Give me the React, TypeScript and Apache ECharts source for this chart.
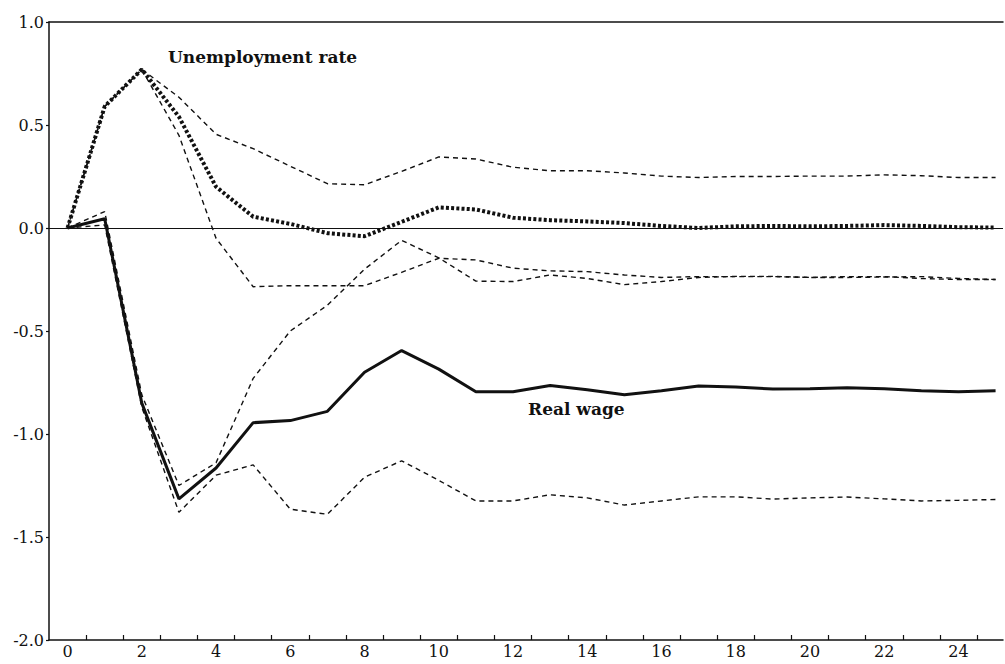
import React, { useEffect, useRef } from "react";
import * as echarts from "echarts";

const periods = [0, 1, 2, 3, 4, 5, 6, 7, 8, 9, 10, 11, 12, 13, 14, 15, 16, 17, 18, 19, 20, 21, 22, 23, 24, 25];

const unemployment = [0, 0.59, 0.77, 0.54, 0.2, 0.055, 0.02, -0.025, -0.04, 0.03, 0.1, 0.09, 0.05, 0.038, 0.032, 0.024, 0.01, 0.0, 0.008, 0.01, 0.008, 0.01, 0.014, 0.01, 0.004, 0.002];
const unempUpper = [0, 0.59, 0.77, 0.635, 0.455, 0.385, 0.3, 0.215, 0.21, 0.275, 0.345, 0.335, 0.295, 0.278, 0.278, 0.267, 0.252, 0.245, 0.25, 0.25, 0.252, 0.252, 0.258, 0.254, 0.245, 0.245];
const unempLower = [0, 0.59, 0.77, 0.45, -0.05, -0.285, -0.28, -0.28, -0.28, -0.215, -0.147, -0.155, -0.195, -0.208, -0.212, -0.228, -0.24, -0.236, -0.236, -0.236, -0.24, -0.24, -0.238, -0.236, -0.245, -0.25];

const realWage = [0, 0.045, -0.85, -1.315, -1.165, -0.945, -0.935, -0.89, -0.7, -0.595, -0.685, -0.795, -0.795, -0.765, -0.785, -0.81, -0.79, -0.767, -0.772, -0.782, -0.78, -0.775, -0.78, -0.79, -0.795, -0.79];
const wageUpper = [0, 0.08, -0.81, -1.25, -1.14, -0.73, -0.5, -0.375, -0.2, -0.06, -0.145, -0.258, -0.26, -0.228, -0.245, -0.275, -0.26, -0.24, -0.235, -0.235, -0.24, -0.236, -0.236, -0.245, -0.25, -0.25];
const wageLower = [0, 0.015, -0.87, -1.38, -1.2, -1.15, -1.365, -1.39, -1.21, -1.13, -1.225, -1.325, -1.325, -1.295, -1.31, -1.345, -1.325, -1.305, -1.305, -1.316, -1.31, -1.306, -1.315, -1.325, -1.322, -1.318];

const xLabelValues = [0, 2, 4, 6, 8, 10, 12, 14, 16, 18, 20, 22, 24];
const xTickValues = [0.5, 1.5, 2.5, 3.5, 4.5, 5.5, 6.5, 7.5, 8.5, 9.5, 10.5, 11.5, 12.5, 13.5, 14.5, 15.5, 16.5, 17.5, 18.5, 19.5, 20.5, 21.5, 22.5, 23.5, 24.5];

const labelUnemployment = "Unemployment rate";
const labelRealWage = "Real wage";

const FONT = "DejaVu Serif";
const INK = "#111";

function pairs(vals: number[]) {
  return periods.map((p, i) => [p, vals[i]]);
}

export default function App() {
  const ref = useRef<HTMLDivElement>(null);

  useEffect(() => {
    if (!ref.current) return;
    const chart = echarts.init(ref.current, undefined, { renderer: "svg" });

    const band = (name: string, vals: number[]) => ({
      name,
      type: "line",
      data: pairs(vals),
      showSymbol: false,
      symbol: "none",
      lineStyle: { color: INK, width: 1.4, type: [5, 4] },
      z: 2,
    });

    chart.setOption({
      animation: false,
      backgroundColor: "#fff",
      grid: { left: 49, right: 2, top: 22, bottom: 24 },
      xAxis: [
        {
          type: "value",
          min: -0.5,
          max: 25.2,
          axisLine: { show: true, onZero: false, lineStyle: { color: INK, width: 1.5 } },
          axisTick: {
            show: true,
            inside: true,
            length: 5,
            customValues: xTickValues,
            lineStyle: { color: INK, width: 1.2 },
          },
          axisLabel: {
            customValues: xLabelValues,
            color: INK,
            fontFamily: FONT,
            fontSize: 16,
            margin: 3,
            formatter: (v: number) => String(v),
          },
          splitLine: { show: false },
        },
        {
          type: "value",
          position: "top",
          min: -0.5,
          max: 25.2,
          axisLine: { show: true, onZero: false, lineStyle: { color: INK, width: 1.5 } },
          axisTick: { show: false },
          axisLabel: { show: false },
          splitLine: { show: false },
        },
      ],
      yAxis: {
        type: "value",
        min: -2,
        max: 1,
        interval: 0.5,
        axisLine: { show: true, onZero: false, lineStyle: { color: INK, width: 1.5 } },
        axisTick: { show: true, inside: false, length: 3, lineStyle: { color: INK, width: 1.2 } },
        axisLabel: {
          color: INK,
          fontFamily: FONT,
          fontSize: 16,
          margin: 5,
          formatter: (v: number) => v.toFixed(1),
        },
        splitLine: { show: false },
      },
      series: [
        {
          name: "zero",
          type: "line",
          data: [],
          markLine: {
            silent: true,
            symbol: "none",
            label: { show: false },
            lineStyle: { color: INK, width: 1, type: "solid" },
            data: [{ yAxis: 0 }],
          },
        },
        band("Unemployment upper", unempUpper),
        band("Unemployment lower", unempLower),
        band("Real wage upper", wageUpper),
        band("Real wage lower", wageLower),
        {
          name: labelUnemployment,
          type: "line",
          data: pairs(unemployment),
          showSymbol: false,
          symbol: "none",
          lineStyle: { color: INK, width: 4, type: [3, 2.2], cap: "butt" },
          z: 3,
        },
        {
          name: labelRealWage,
          type: "line",
          data: pairs(realWage),
          showSymbol: false,
          symbol: "none",
          lineStyle: { color: INK, width: 3, type: "solid" },
          z: 3,
        },
      ],
      graphic: [
        {
          type: "text",
          left: 168,
          top: 48,
          style: { text: labelUnemployment, fill: INK, font: `bold 17px "${FONT}"` },
        },
        {
          type: "text",
          left: 528,
          top: 400,
          style: { text: labelRealWage, fill: INK, font: `bold 17px "${FONT}"` },
        },
      ],
    });

    return () => chart.dispose();
  }, []);

  return (
    <div
      ref={ref}
      style={{ position: "fixed", left: 0, top: 0, width: 1005, height: 664, background: "#fff" }}
    />
  );
}
